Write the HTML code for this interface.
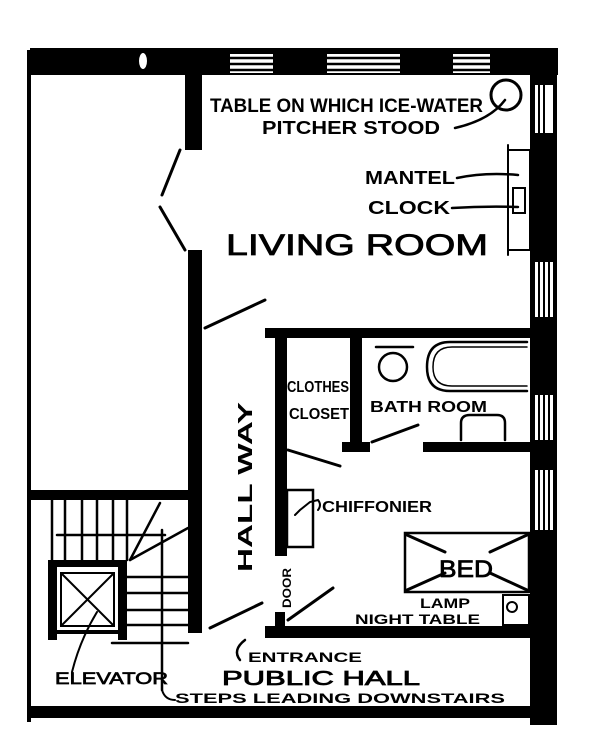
<!DOCTYPE html>
<html><head><meta charset="utf-8"><style>
html,body{margin:0;padding:0;background:#fff;}
svg{display:block;}
text{font-family:"Liberation Sans",sans-serif;font-weight:bold;fill:#000;}
</style></head><body>
<svg width="600" height="752" viewBox="0 0 600 752" xmlns="http://www.w3.org/2000/svg">
<rect width="600" height="752" fill="#fff"/>
<g fill="#000">
<rect x="30" y="48" width="528" height="27"/>
<g fill="#fff">
<rect x="230" y="54" width="43" height="19"/>
<rect x="327" y="54" width="73" height="19"/>
<rect x="453" y="54" width="37" height="19"/>
</g>
<g stroke="#000" stroke-width="2.5">
<line x1="230" y1="58" x2="273" y2="58"/><line x1="230" y1="64" x2="273" y2="64"/><line x1="230" y1="70" x2="273" y2="70"/>
<line x1="327" y1="58" x2="400" y2="58"/><line x1="327" y1="64" x2="400" y2="64"/><line x1="327" y1="70" x2="400" y2="70"/>
<line x1="453" y1="58" x2="490" y2="58"/><line x1="453" y1="64" x2="490" y2="64"/><line x1="453" y1="70" x2="490" y2="70"/>
</g>
<ellipse cx="143" cy="61" rx="4" ry="8" fill="#fff"/>
<rect x="530" y="48" width="27" height="677"/>
<g fill="#fff">
<rect x="535" y="85" width="18" height="48"/>
<rect x="535" y="262" width="18" height="55"/>
<rect x="535" y="395" width="18" height="45"/>
<rect x="535" y="470" width="18" height="60"/>
</g>
<g stroke="#000" stroke-width="2">
<line x1="539" y1="85" x2="539" y2="133"/><line x1="544" y1="85" x2="544" y2="133"/>
<line x1="539" y1="262" x2="539" y2="317"/><line x1="544" y1="262" x2="544" y2="317"/><line x1="549" y1="262" x2="549" y2="317"/>
<line x1="539" y1="395" x2="539" y2="440"/><line x1="544" y1="395" x2="544" y2="440"/><line x1="549" y1="395" x2="549" y2="440"/>
<line x1="539" y1="470" x2="539" y2="530"/><line x1="544" y1="470" x2="544" y2="530"/><line x1="549" y1="470" x2="549" y2="530"/>
</g>
<rect x="27" y="50" width="4" height="672"/>
<rect x="185" y="75" width="17" height="75"/>
<rect x="188" y="250" width="14" height="383"/>
<rect x="265" y="328" width="268" height="10"/>
<rect x="275" y="338" width="12" height="218"/>
<rect x="350" y="338" width="12" height="112"/>
<rect x="342" y="442" width="28" height="10"/>
<rect x="423" y="442" width="108" height="10"/>
<rect x="265" y="626" width="268" height="12"/>
<rect x="275" y="612" width="10" height="20"/>
<rect x="30" y="706" width="500" height="12"/>
<rect x="27" y="490" width="163" height="10"/>
<rect x="48" y="560" width="79" height="7"/>
<rect x="48" y="560" width="9" height="80"/>
<rect x="118" y="560" width="9" height="80"/>
<rect x="48" y="630" width="79" height="4"/>
</g>
<g stroke="#000" stroke-width="3" fill="none" stroke-linecap="round">
<line x1="180" y1="150" x2="162" y2="195"/>
<line x1="160" y1="207" x2="185" y2="250"/>
<line x1="205" y1="328" x2="265" y2="300"/>
<line x1="288" y1="450" x2="340" y2="466"/>
<line x1="372" y1="442" x2="418" y2="425"/>
<line x1="288" y1="620" x2="333" y2="588"/>
<line x1="210" y1="628" x2="262" y2="603"/>
<g stroke-width="2.5">
<line x1="52" y1="500" x2="52" y2="560"/><line x1="65" y1="500" x2="65" y2="560"/>
<line x1="82" y1="500" x2="82" y2="560"/><line x1="97" y1="500" x2="97" y2="560"/>
<line x1="113" y1="500" x2="113" y2="560"/><line x1="127" y1="500" x2="127" y2="560"/>
<line x1="57" y1="535" x2="165" y2="535"/>
<line x1="162" y1="530" x2="162" y2="690"/>
<line x1="130" y1="560" x2="160" y2="503"/>
<line x1="130" y1="560" x2="188" y2="528"/>
<line x1="127" y1="577" x2="188" y2="577"/><line x1="127" y1="593" x2="188" y2="593"/>
<line x1="127" y1="610" x2="188" y2="610"/><line x1="127" y1="625" x2="188" y2="625"/>
<line x1="112" y1="643" x2="188" y2="643"/>
<rect x="61" y="573" width="53" height="53" stroke-width="2"/>
<line x1="61" y1="573" x2="114" y2="626" stroke-width="2"/>
<line x1="114" y1="573" x2="61" y2="626" stroke-width="2"/>
</g>
<circle cx="506" cy="95" r="15"/>
<path d="M505 100 Q490 120 455 128" stroke-width="2.5"/>
<g stroke-width="2">
<rect x="508" y="150" width="22" height="100"/>
<line x1="508" y1="145" x2="508" y2="255"/>
<rect x="513" y="188" width="12" height="25"/>
</g>
<path d="M457 178 Q485 172 518 175" stroke-width="2.5"/>
<path d="M452 208 Q485 206 518 207" stroke-width="2.5"/>
<circle cx="393" cy="367" r="14" stroke-width="2.5"/>
<line x1="376" y1="347" x2="413" y2="347" stroke-width="2.5"/>
<path d="M527 342 L450 342 Q427 342 427 367 Q427 391 450 391 L527 391" stroke-width="2.5"/>
<path d="M527 347 L452 347 Q433 347 433 367 Q433 386 452 386 L527 386" stroke-width="1.5"/>
<path d="M461 440 L461 423 Q461 415 470 415 L497 415 Q505 415 505 423 L505 440" stroke-width="2.5"/>
<rect x="287" y="490" width="26" height="57" stroke-width="2.5"/>
<path d="M295 515 L300 510 L310 502 L318 500 Q322 505 318 510" stroke-width="2"/>
<rect x="405" y="533" width="124" height="59" stroke-width="2.5"/>
<line x1="407" y1="535" x2="445" y2="552"/><line x1="527" y1="535" x2="490" y2="552"/>
<line x1="407" y1="590" x2="445" y2="573"/><line x1="527" y1="590" x2="490" y2="573"/>
<rect x="503" y="595" width="26" height="30" stroke-width="2"/>
<circle cx="512" cy="607" r="5" stroke-width="2"/>
<path d="M97 612 Q80 640 72 672" stroke-width="2"/>
<path d="M162 690 Q165 700 175 700" stroke-width="2"/>
<path d="M245 640 Q232 650 240 660" stroke-width="2.5"/>
</g>
<text x="210" y="112" font-size="19" textLength="273" lengthAdjust="spacingAndGlyphs">TABLE ON WHICH ICE-WATER</text>
<text x="262" y="134" font-size="18" textLength="178" lengthAdjust="spacingAndGlyphs">PITCHER STOOD</text>
<text x="365" y="184" font-size="18" textLength="90" lengthAdjust="spacingAndGlyphs">MANTEL</text>
<text x="368" y="214" font-size="18" textLength="82" lengthAdjust="spacingAndGlyphs">CLOCK</text>
<text x="226" y="255" font-size="30" textLength="262" lengthAdjust="spacingAndGlyphs" style="font-weight:normal" stroke="#000" stroke-width="0.8">LIVING ROOM</text>
<text x="287" y="392" font-size="16" textLength="62" lengthAdjust="spacingAndGlyphs">CLOTHES</text>
<text x="289" y="419" font-size="16" textLength="60" lengthAdjust="spacingAndGlyphs">CLOSET</text>
<text x="370" y="412" font-size="16" textLength="117" lengthAdjust="spacingAndGlyphs">BATH ROOM</text>
<text transform="translate(252,572) rotate(-90)" font-size="20" textLength="170" lengthAdjust="spacingAndGlyphs">HALL WAY</text>
<text x="322" y="512" font-size="16" textLength="110" lengthAdjust="spacingAndGlyphs">CHIFFONIER</text>
<text x="439" y="577" font-size="24" textLength="54" lengthAdjust="spacingAndGlyphs" style="font-weight:normal" stroke="#000" stroke-width="0.8">BED</text>
<text x="420" y="608" font-size="14" textLength="50" lengthAdjust="spacingAndGlyphs">LAMP</text>
<text x="355" y="624" font-size="14" textLength="125" lengthAdjust="spacingAndGlyphs">NIGHT TABLE</text>
<text transform="translate(291,608) rotate(-90)" font-size="12" textLength="40" lengthAdjust="spacingAndGlyphs">DOOR</text>
<text x="248" y="662" font-size="14" textLength="114" lengthAdjust="spacingAndGlyphs">ENTRANCE</text>
<text x="222" y="685" font-size="20" textLength="198" lengthAdjust="spacingAndGlyphs" style="font-weight:normal" stroke="#000" stroke-width="0.8">PUBLIC HALL</text>
<text x="55" y="684" font-size="17" textLength="113" lengthAdjust="spacingAndGlyphs" style="font-weight:normal" stroke="#000" stroke-width="0.7">ELEVATOR</text>
<text x="175" y="703" font-size="14" textLength="330" lengthAdjust="spacingAndGlyphs">STEPS LEADING DOWNSTAIRS</text>
</svg>
</body></html>
